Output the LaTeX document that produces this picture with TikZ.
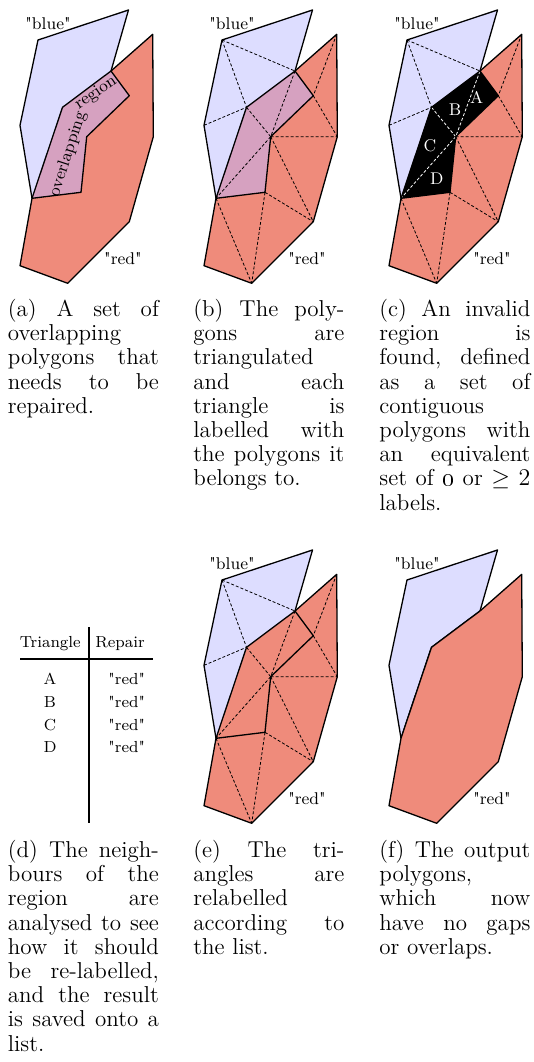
\documentclass[tikz,border=0pt]{standalone}
\definecolor{bluefill}{RGB}{221,221,255}
\definecolor{redfill}{RGB}{239,139,123}
\definecolor{overfill}{RGB}{214,161,192}
\newcommand\JL[1]{\makebox[\hsize][s]{\spaceskip=0pt\xspaceskip=0pt #1}}
\newcommand\fs{\rule{0pt}{10pt}}
\newcommand\q[1]{\textquotedbl#1\textquotedbl}
\newcommand\pts[1]{%
 \coordinate (#1TL) at (38,40);
 \coordinate (#1TR) at (128.5,10);
 \coordinate (#1J) at (111,71);
 \coordinate (#1O) at (129.3,95.7);
 \coordinate (#1I) at (86.7,136.7);
 \coordinate (#1K) at (81,192.3);
 \coordinate (#1BJ) at (32,198.3);
 \coordinate (#1L) at (20,125.3);
 \coordinate (#1P) at (62.5,107.3);
 \coordinate (#1RT) at (152.7,34.3);
 \coordinate (#1RR) at (153.3,136.7);
 \coordinate (#1RB) at (129.3,221.7);
 \coordinate (#1RBot) at (67.7,283.3);
 \coordinate (#1RBL) at (20,265.7);}
\newcommand\bluepath[1]{(#1TL) -- (#1TR) -- (#1J) -- (#1O) -- (#1I) -- (#1K) -- (#1BJ) -- (#1L) -- cycle}
\newcommand\redpath[1]{(#1RT) -- (#1RR) -- (#1RB) -- (#1RBot) -- (#1RBL) -- (#1BJ) -- (#1P) -- (#1J) -- cycle}
\newcommand\overpath[1]{(#1J) -- (#1O) -- (#1I) -- (#1K) -- (#1BJ) -- (#1P) -- cycle}
\newcommand\triedges[1]{%
 \draw[tri] (#1TL) -- (#1J) (#1TL) -- (#1P) (#1L) -- (#1P);
 \draw[tri] (#1RT) -- (#1O) (#1O) -- (#1RR) (#1I) -- (#1RR) (#1I) -- (#1RB)
   (#1K) -- (#1RB) (#1K) -- (#1RBot) (#1BJ) -- (#1RBot);}
\newcommand\overedges[2]{\draw[tri,#2] (#1J) -- (#1I) (#1P) -- (#1I) (#1I) -- (#1BJ);}
\newcommand\labels[1]{%
 \node[lab] (#1blue) at (48,24) {\q{blue}};
 \node[lab] (#1red) at (123,259) {\q{red}};}
\begin{document}
\begin{tikzpicture}[x=0.5pt,y=-0.5pt,
  tri/.style={line width=0.4pt, dash pattern=on 1.5pt off 1pt},
  outline/.style={line width=0.65pt, line join=round},
  lab/.style={inner sep=0pt, font=\fontsize{8.5}{10}\selectfont},
  tabf/.style={inner sep=0pt, anchor=base, font=\fontsize{8}{9.6}\selectfont},
  tabline/.style={line width=0.9pt},
  captext/.style={anchor=north west, inner sep=0pt, align=left, text width=75.5pt,
    font=\fontsize{11.5}{12.1}\selectfont}]
\useasboundingbox (0,0) rectangle (534,1062);
% (a)
\begin{scope}
 \pts{a}
 \fill[bluefill] \bluepath{a};
 \fill[redfill] \redpath{a};
 \fill[overfill] \overpath{a};
 \draw[outline] \bluepath{a};
 \draw[outline] \redpath{a};
 \labels{a}
 \node[lab, rotate=72] (aov) at (68,154) {overlapping};
 \node[lab, rotate=34] (areg) at (96,93) {region};
\end{scope}
% (b)
\begin{scope}[shift={(184,0)}]
 \pts{b}
 \fill[bluefill] \bluepath{b};
 \fill[redfill] \redpath{b};
 \fill[overfill] \overpath{b};
 \triedges{b}
 \overedges{b}{black}
 \draw[outline] \bluepath{b};
 \draw[outline] \redpath{b};
 \labels{b}
\end{scope}
% (c)
\begin{scope}[shift={(369,0)}]
 \pts{c}
 \fill[bluefill] \bluepath{c};
 \fill[redfill] \redpath{c};
 \fill[black] \overpath{c};
 \triedges{c}
 \overedges{c}{white}
 \draw[outline] \bluepath{c};
 \draw[outline] \redpath{c};
 \labels{c}
 \node[lab, text=white] (cA) at (107.7,97.7) {A};
 \node[lab, text=white] (cB) at (86,109.3) {B};
 \node[lab, text=white] (cC) at (61,145.7) {C};
 \node[lab, text=white] (cD) at (67.7,178.3) {D};
\end{scope}
% (d) table
\coordinate (dvt) at (89.3,627.3);
\coordinate (dvb) at (89.3,823.3);
\coordinate (dhl) at (20,659.3);
\coordinate (dhr) at (153,659.3);
\draw[tabline] (dvt) -- (dvb);
\draw[tabline] (dhl) -- (dhr);
\node[tabf] (dh1) at (50.3,647.3) {Triangle};
\node[tabf] (dh2) at (120,647.3) {Repair};
\node[tabf] (dA) at (50,684) {A};
\node[tabf] (dB) at (50,707.3) {B};
\node[tabf] (dC) at (50,730) {C};
\node[tabf] (dD) at (50,752.7) {D};
\node[tabf] (dr1) at (126.7,684) {\q{red}};
\node[tabf] (dr2) at (126.7,707.3) {\q{red}};
\node[tabf] (dr3) at (126.7,730) {\q{red}};
\node[tabf] (dr4) at (126.7,752.7) {\q{red}};
% (e)
\begin{scope}[shift={(184,540)}]
 \pts{e}
 \fill[bluefill] \bluepath{e};
 \fill[redfill] \redpath{e};
 \fill[redfill] \overpath{e};
 \triedges{e}
 \overedges{e}{black}
 \draw[outline] \bluepath{e};
 \draw[outline] \redpath{e};
 \labels{e}
\end{scope}
% (f)
\begin{scope}[shift={(369,540)}]
 \pts{f}
 \filldraw[outline, fill=bluefill] \bluepath{f};
 \filldraw[outline, fill=redfill] \redpath{f};
 \fill[redfill] \overpath{f};
 \draw[outline] (fBJ) -- (fP) -- (fJ);
 \labels{f}
\end{scope}
% captions
\node[captext] (capa) at (7.5,296) {\noindent\fs\JL{(a) A set of}\\
 \JL{overlapping}\\ \JL{polygons that}\\ \JL{needs to be}\\ repaired.};
\node[captext] (capb) at (193,296) {\noindent\fs\JL{(b) The poly-}\\
 \JL{gons are}\\ \JL{triangulated}\\ \JL{and each}\\ \JL{triangle is}\\
 \JL{labelled with}\\ \JL{the polygons it}\\ belongs to.};
\node[captext] (capc) at (379,296) {\noindent\fs\JL{(c) An invalid}\\
 \JL{region is}\\ \JL{found, defined}\\ \JL{as a set of}\\ \JL{contiguous}\\
 \JL{polygons with}\\ \JL{an equivalent}\\ \JL{set of \oldstylenums{0} or $\geq 2$}\\ labels.};
\node[captext] (capd) at (7.5,837) {\noindent\fs\JL{(d) The neigh-}\\
 \JL{bours of the}\\ \JL{region are}\\ \JL{analysed to see}\\ \JL{how it should}\\
 \JL{be re-labelled,}\\ \JL{and the result}\\ \JL{is saved onto a}\\ list.};
\node[captext] (cape) at (193,837) {\noindent\fs\JL{(e) The tri-}\\
 \JL{angles are}\\ \JL{relabelled}\\ \JL{according to}\\ the list.};
\node[captext] (capf) at (379,837) {\noindent\fs\JL{(f) The output}\\
 \JL{polygons,}\\ \JL{which now}\\ \JL{have no gaps}\\ or overlaps.};
\end{tikzpicture}
\end{document}
